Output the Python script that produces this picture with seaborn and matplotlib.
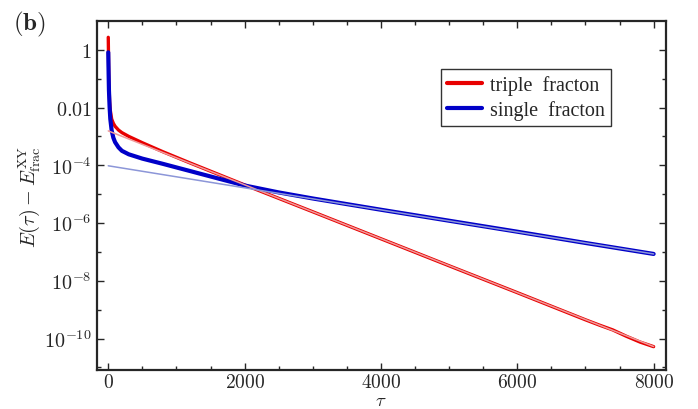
import numpy as np
import pandas as pd
import matplotlib
matplotlib.use("Agg")
import matplotlib.pyplot as plt
import matplotlib.ticker as mticker
import seaborn as sns

# Energy relative to the XY fracton reference, versus imaginary time tau
tau_triple = [0, 5, 10, 20, 30, 50, 75, 100, 150, 200, 300, 500, 800, 1200,
              2000, 3000, 4000, 5000, 6000, 7000, 7200, 7400, 7600, 7800, 8000]
log_e_triple = [0.43, -0.5, -1.2, -1.8, -2.1, -2.4, -2.55, -2.65, -2.78, -2.87,
                -3.0, -3.22, -3.53, -3.92, -4.68, -5.61, -6.545, -7.48, -8.41,
                -9.35, -9.53, -9.70, -9.92, -10.12, -10.28]

tau_single = [0, 5, 10, 20, 30, 50, 75, 100, 150, 200, 300, 500, 800, 1200,
              1600, 2000, 2500, 3000, 4000, 5000, 6000, 7000, 8000]
log_e_single = [-0.09, -0.8, -1.4, -2.0, -2.4, -2.8, -3.05, -3.2, -3.38, -3.5,
                -3.62, -3.77, -3.95, -4.2, -4.45, -4.7, -4.94, -5.15, -5.54,
                -5.92, -6.30, -6.69, -7.07]

# Exponential fits (straight lines on the log axis)
fit_tau = [0, 8000]
fit_triple = [1.55e-3, 5.3e-11]
fit_single = [9.6e-5, 8.5e-8]

sns.set_style("ticks")
plt.rcParams.update({
    "font.family": ["Liberation Serif", "DejaVu Serif"],
    "mathtext.fontset": "cm",
    "axes.linewidth": 1.6,
})

df_triple = pd.DataFrame({"tau": tau_triple, "E": 10.0 ** np.array(log_e_triple)})
df_single = pd.DataFrame({"tau": tau_single, "E": 10.0 ** np.array(log_e_single)})
df_fit = pd.DataFrame({"tau": fit_tau, "triple": fit_triple, "single": fit_single})

red = "#e80000"
blue = "#0000c8"
fig = plt.figure(figsize=(6.98, 4.10), dpi=100)
ax = fig.add_axes([0.1385, 0.095, 0.8155, 0.851])

sns.lineplot(data=df_triple, x="tau", y="E", ax=ax, color=red, lw=2.4,
             estimator=None, sort=False, label="triple  fracton")
sns.lineplot(data=df_single, x="tau", y="E", ax=ax, color=blue, lw=3.0,
             estimator=None, sort=False, label="single  fracton")
sns.lineplot(data=df_fit, x="tau", y="triple", ax=ax, color="#f09a9a", lw=1.1,
             estimator=None, sort=False, legend=False)
sns.lineplot(data=df_fit, x="tau", y="single", ax=ax, color="#8c96d8", lw=1.1,
             estimator=None, sort=False, legend=False)

ax.set_yscale("log")
ax.set_xlim(-170, 8180)
ax.set_ylim(10 ** -11.09, 10 ** 0.99)

ax.xaxis.set_minor_locator(mticker.MultipleLocator(500))
ax.set_xticks([0, 2000, 4000, 6000, 8000])
ax.set_xticklabels([r"$0$", r"$2000$", r"$4000$", r"$6000$", r"$8000$"])

y_major = [1e0, 1e-2, 1e-4, 1e-6, 1e-8, 1e-10]
y_labels = [r"$1$", r"$0.01$", r"$10^{-4}$", r"$10^{-6}$", r"$10^{-8}$", r"$10^{-10}$"]
ax.set_yticks(y_major)
ax.set_yticklabels(y_labels)
ax.yaxis.set_minor_locator(mticker.FixedLocator([1e-1, 1e-3, 1e-5, 1e-7, 1e-9, 1e-11]))
ax.yaxis.set_minor_formatter(mticker.NullFormatter())

ax.tick_params(which="both", direction="in", top=True, right=True,
               labelsize=14.5, width=1.0)
ax.tick_params(which="major", length=5)
ax.tick_params(which="minor", length=3)
ax.tick_params(axis="x", which="major", pad=2, labelsize=14)

ax.set_xlabel(r"$\tau$", fontsize=13.5, labelpad=0.5)
ax.set_ylabel(r"$E(\tau)-E^{\rm XY}_{\rm frac}$", fontsize=14.5, labelpad=2)

leg = ax.legend(loc="upper left", bbox_to_anchor=(0.605, 0.863), fontsize=14.5,
                frameon=True, fancybox=False, framealpha=1, edgecolor="#333333",
                handlelength=1.75, handletextpad=0.4, borderpad=0.3,
                labelspacing=0.25, borderaxespad=0)
leg.get_frame().set_linewidth(1.0)
for line in leg.get_lines():
    line.set_linewidth(3.0)

fig.text(0.018, 0.975, r"$\mathbf{(b)}$", fontsize=18, va="top", ha="left")

fig.savefig("out.png", dpi=100)
